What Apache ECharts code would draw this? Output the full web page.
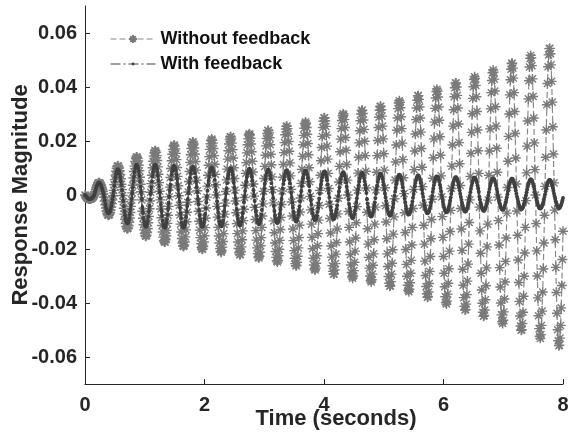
<!DOCTYPE html>
<html>
<head>
<meta charset="utf-8">
<script src="https://cdn.jsdelivr.net/npm/echarts@6/dist/echarts.min.js"></script>
<style>
  html, body { margin: 0; padding: 0; background: #ffffff; }
  #chart { width: 573px; height: 435px; }
</style>
</head>
<body>
<div id="chart"></div>
<script>
// Simulated response, sampled every 0.01 s from t = 0 to t = 8 s (801 samples each).
// One line per oscillation cycle.
const timeStep = 0.01;

const withoutFeedback = [
  0,-.0003,-.0006,-.0008,-.0011,-.0013,-.0014,-.0015,-.0015,-.0015,-.0014,-.0012,-.0010,-.0008,-.0005,-.0002,.0003,.0012,.0020,.0028,.0034,.0039,.0043,.0045,.0045,.0043,.0040,.0035,.0028,.0021,.0013,.0004,
  -.0008,-.0022,-.0036,-.0048,-.0059,-.0067,-.0072,-.0075,-.0074,-.0071,-.0065,-.0056,-.0045,-.0032,-.0018,-.0003,.0017,.0038,.0057,.0074,.0088,.0099,.0106,.0108,.0106,.0100,.0090,.0076,.0060,.0040,.0020,-.0002,
  -.0025,-.0049,-.0071,-.0090,-.0105,-.0117,-.0123,-.0125,-.0122,-.0114,-.0101,-.0085,-.0065,-.0042,-.0018,.0008,.0036,.0063,.0087,.0107,.0124,.0135,.0141,.0141,.0136,.0126,.0110,.0090,.0066,.0040,.0012,-.0018,
  -.0060,-.0086,-.0110,-.0129,-.0143,-.0151,-.0153,-.0149,-.0139,-.0124,-.0103,-.0079,-.0051,-.0022,.0010,.0042,.0073,.0101,.0125,.0144,.0157,.0164,.0164,.0158,.0146,.0128,.0104,.0077,.0046,.0014,
  -.0018,-.0052,-.0084,-.0113,-.0137,-.0156,-.0169,-.0174,-.0174,-.0166,-.0151,-.0131,-.0105,-.0075,-.0042,-.0007,.0029,.0065,.0098,.0127,.0151,.0169,.0181,.0185,.0182,.0171,.0154,.0131,.0102,.0069,.0034,-.0003,
  -.0038,-.0074,-.0108,-.0137,-.0161,-.0178,-.0188,-.0191,-.0186,-.0174,-.0155,-.0129,-.0099,-.0064,-.0027,.0011,.0050,.0087,.0121,.0149,.0172,.0188,.0196,.0196,.0189,.0174,.0152,.0124,.0092,.0055,.0016,-.0024,
  -.0060,-.0097,-.0130,-.0158,-.0180,-.0195,-.0201,-.0200,-.0191,-.0174,-.0151,-.0121,-.0086,-.0048,-.0008,.0033,.0073,.0110,.0142,.0169,.0190,.0202,.0207,.0203,.0192,.0172,.0146,.0114,.0077,.0038,
  0,-.0042,-.0082,-.0120,-.0152,-.0178,-.0198,-.0209,-.0212,-.0206,-.0193,-.0172,-.0143,-.0109,-.0071,-.0030,.0013,.0056,.0096,.0133,.0164,.0189,.0207,.0216,.0216,.0208,.0192,.0168,.0137,.0101,.0061,.0018,
  -.0022,-.0066,-.0106,-.0143,-.0174,-.0198,-.0214,-.0221,-.0220,-.0210,-.0192,-.0166,-.0133,-.0095,-.0053,-.0009,.0036,.0080,.0120,.0156,.0186,.0208,.0222,.0227,.0223,.0210,.0189,.0160,.0125,.0085,.0041,-.0004,
  -.0046,-.0091,-.0132,-.0167,-.0196,-.0217,-.0230,-.0233,-.0227,-.0212,-.0188,-.0158,-.0120,-.0078,-.0033,.0014,.0061,.0106,.0147,.0182,.0209,.0228,.0239,.0239,.0230,.0212,.0186,.0151,.0112,.0067,.0020,-.0029,
  -.0096,-.0140,-.0178,-.0209,-.0231,-.0244,-.0248,-.0242,-.0225,-.0201,-.0168,-.0128,-.0083,-.0035,.0015,.0066,.0113,.0157,.0194,.0223,.0244,.0254,.0255,.0246,.0226,.0198,.0162,.0119,.0071,.0021,
  -.0026,-.0078,-.0126,-.0169,-.0206,-.0234,-.0254,-.0262,-.0261,-.0249,-.0227,-.0196,-.0158,-.0112,-.0063,-.0011,.0043,.0095,.0143,.0186,.0221,.0247,.0264,.0270,.0265,.0250,.0225,.0191,.0149,.0101,.0049,-.0005,
  -.0055,-.0108,-.0157,-.0199,-.0234,-.0259,-.0274,-.0278,-.0271,-.0253,-.0225,-.0188,-.0143,-.0093,-.0039,.0017,.0073,.0127,.0176,.0217,.0250,.0273,.0285,.0286,.0275,.0254,.0222,.0181,.0133,.0080,.0024,-.0034,
  -.0087,-.0141,-.0189,-.0230,-.0262,-.0283,-.0293,-.0292,-.0278,-.0254,-.0219,-.0176,-.0126,-.0070,-.0012,.0048,.0106,.0160,.0207,.0246,.0276,.0294,.0301,.0296,.0279,.0250,.0213,.0166,.0113,.0055,
  0,-.0061,-.0120,-.0174,-.0221,-.0259,-.0287,-.0303,-.0308,-.0300,-.0280,-.0249,-.0208,-.0159,-.0103,-.0043,.0018,.0081,.0140,.0193,.0238,.0275,.0300,.0313,.0314,.0302,.0278,.0243,.0199,.0146,.0088,.0026,
  -.0064,-.0125,-.0182,-.0231,-.0271,-.0300,-.0317,-.0322,-.0314,-.0293,-.0260,-.0218,-.0166,-.0108,-.0045,.0019,.0084,.0146,.0202,.0250,.0288,.0314,.0328,.0329,.0316,.0292,.0255,.0208,.0153,.0092,.0027,-.0040,
  -.0100,-.0162,-.0218,-.0265,-.0302,-.0327,-.0338,-.0336,-.0321,-.0293,-.0253,-.0203,-.0145,-.0081,-.0014,.0055,.0122,.0185,.0240,.0285,.0320,.0341,.0349,.0343,.0323,.0290,.0246,.0192,.0131,.0064,.0005,-.0066,
  -.0139,-.0202,-.0257,-.0301,-.0334,-.0353,-.0358,-.0349,-.0325,-.0290,-.0242,-.0185,-.0120,-.0050,.0021,.0094,.0163,.0226,.0279,.0322,.0351,.0367,.0368,.0354,.0326,.0285,.0233,.0172,.0103,.0031,
  -.0038,-.0112,-.0182,-.0245,-.0298,-.0339,-.0366,-.0379,-.0377,-.0359,-.0328,-.0283,-.0228,-.0162,-.0091,-.0016,.0062,.0138,.0208,.0270,.0321,.0359,.0383,.0392,.0385,.0363,.0326,.0277,.0216,.0147,.0071,-.0007,
  -.0080,-.0157,-.0228,-.0290,-.0340,-.0377,-.0398,-.0404,-.0393,-.0367,-.0327,-.0273,-.0208,-.0135,-.0057,.0024,.0107,.0185,.0255,.0316,.0364,.0397,.0415,.0415,.0400,.0369,.0322,.0263,.0194,.0116,.0035,-.0050,
  -.0126,-.0205,-.0275,-.0334,-.0380,-.0412,-.0426,-.0424,-.0404,-.0369,-.0319,-.0256,-.0182,-.0102,-.0018,.0069,.0154,.0232,.0301,.0358,.0401,.0428,.0438,.0431,.0406,.0364,.0309,.0241,.0164,.0080,
  -.0045,-.0133,-.0216,-.0290,-.0352,-.0401,-.0434,-.0449,-.0446,-.0426,-.0388,-.0336,-.0270,-.0192,-.0108,-.0019,.0073,.0163,.0245,.0319,.0379,.0424,.0453,.0463,.0455,.0429,.0385,.0327,.0255,.0173,.0084,-.0008,
  -.0095,-.0185,-.0269,-.0341,-.0400,-.0444,-.0469,-.0476,-.0464,-.0433,-.0385,-.0322,-.0246,-.0159,-.0067,.0028,.0125,.0217,.0300,.0371,.0427,.0466,.0487,.0488,.0470,.0433,.0379,.0309,.0228,.0137,.0041,-.0059,
  -.0149,-.0241,-.0324,-.0394,-.0448,-.0485,-.0501,-.0499,-.0476,-.0434,-.0375,-.0301,-.0215,-.0120,-.0021,.0082,.0181,.0274,.0356,.0423,.0474,.0506,.0517,.0508,.0479,.0430,.0365,.0285,.0193,.0094,
  0,-.0106,-.0207,-.0300,-.0381,-.0447,-.0495,-.0523,-.0531,-.0517,-.0483,-.0430,-.0359,-.0274,-.0178,-.0075,.0032,.0140,.0241,.0334,.0413,.0475,.0519,.0542,.0543,.0523,.0482,.0421,.0344,.0253,.0152,.0045,
  -.0056,-.0166,-.0268,-.0361,-.0438,-.0499,-.0540,-.0558,-.0556,-.0530,-.0483,-.0418,-.0335,-.0239,-.0134
];

const withFeedback = [
  0,-.0003,-.0006,-.0008,-.0011,-.0013,-.0014,-.0015,-.0015,-.0015,-.0014,-.0012,-.0010,-.0008,-.0005,-.0002,.0003,.0012,.0020,.0028,.0034,.0039,.0043,.0045,.0045,.0043,.0040,.0035,.0028,.0021,.0013,.0004,
  -.0007,-.0020,-.0033,-.0044,-.0053,-.0061,-.0066,-.0068,-.0067,-.0064,-.0059,-.0051,-.0041,-.0029,-.0016,-.0003,.0015,.0033,.0050,.0065,.0078,.0087,.0093,.0095,.0093,.0088,.0079,.0067,.0052,.0036,.0017,-.0002,
  -.0021,-.0041,-.0059,-.0075,-.0088,-.0098,-.0103,-.0105,-.0102,-.0095,-.0085,-.0071,-.0054,-.0035,-.0015,.0006,.0029,.0050,.0069,.0085,.0098,.0107,.0111,.0112,.0107,.0099,.0087,.0071,.0052,.0031,.0009,-.0014,
  -.0046,-.0067,-.0085,-.0099,-.0110,-.0116,-.0118,-.0115,-.0107,-.0095,-.0080,-.0061,-.0040,-.0017,.0006,.0029,.0050,.0069,.0085,.0098,.0107,.0111,.0112,.0107,.0099,.0087,.0071,.0052,.0031,.0009,
  -.0012,-.0036,-.0058,-.0078,-.0095,-.0108,-.0117,-.0121,-.0120,-.0114,-.0104,-.0090,-.0072,-.0052,-.0029,-.0005,.0017,.0038,.0057,.0074,.0088,.0099,.0106,.0108,.0106,.0100,.0090,.0076,.0060,.0040,.0020,-.0002,
  -.0024,-.0047,-.0068,-.0087,-.0102,-.0113,-.0119,-.0121,-.0118,-.0110,-.0098,-.0082,-.0062,-.0041,-.0017,.0006,.0027,.0047,.0064,.0079,.0092,.0100,.0104,.0105,.0101,.0093,.0081,.0066,.0049,.0029,.0009,-.0014,
  -.0035,-.0057,-.0076,-.0092,-.0105,-.0114,-.0118,-.0117,-.0112,-.0102,-.0088,-.0071,-.0050,-.0028,-.0005,.0016,.0036,.0054,.0070,.0083,.0093,.0100,.0102,.0100,.0094,.0085,.0072,.0056,.0038,.0019,
  0,-.0023,-.0045,-.0066,-.0083,-.0098,-.0108,-.0114,-.0116,-.0113,-.0105,-.0094,-.0078,-.0060,-.0039,-.0016,.0006,.0025,.0044,.0061,.0075,.0086,.0094,.0098,.0099,.0095,.0088,.0077,.0062,.0046,.0028,.0008,
  -.0011,-.0033,-.0054,-.0073,-.0088,-.0101,-.0109,-.0113,-.0112,-.0107,-.0098,-.0084,-.0068,-.0048,-.0027,-.0005,.0015,.0034,.0051,.0067,.0079,.0089,.0095,.0097,.0095,.0090,.0081,.0068,.0053,.0036,.0018,-.0002,
  -.0021,-.0042,-.0061,-.0077,-.0091,-.0101,-.0106,-.0108,-.0105,-.0098,-.0087,-.0073,-.0056,-.0036,-.0015,.0005,.0024,.0042,.0058,.0071,.0082,.0089,.0093,.0094,.0090,.0083,.0073,.0059,.0044,.0026,.0008,-.0012,
  -.0040,-.0059,-.0075,-.0087,-.0097,-.0102,-.0104,-.0101,-.0095,-.0084,-.0070,-.0054,-.0035,-.0015,.0005,.0024,.0041,.0056,.0070,.0080,.0088,.0091,.0092,.0088,.0081,.0071,.0058,.0043,.0026,.0008,
  -.0010,-.0029,-.0047,-.0063,-.0077,-.0087,-.0094,-.0098,-.0097,-.0093,-.0085,-.0073,-.0059,-.0042,-.0023,-.0004,.0014,.0032,.0048,.0062,.0074,.0082,.0088,.0090,.0088,.0083,.0075,.0064,.0050,.0034,.0016,-.0002,
  -.0019,-.0036,-.0053,-.0067,-.0078,-.0087,-.0092,-.0093,-.0091,-.0085,-.0075,-.0063,-.0048,-.0031,-.0013,.0005,.0022,.0039,.0053,.0066,.0076,.0083,.0086,.0087,.0083,.0077,.0067,.0055,.0040,.0024,.0007,-.0010,
  -.0026,-.0043,-.0057,-.0070,-.0079,-.0086,-.0089,-.0088,-.0084,-.0077,-.0066,-.0053,-.0038,-.0021,-.0004,.0013,.0029,.0045,.0058,.0069,.0077,.0082,.0084,.0083,.0078,.0070,.0059,.0046,.0031,.0015,
  0,-.0017,-.0033,-.0048,-.0061,-.0071,-.0079,-.0084,-.0085,-.0083,-.0077,-.0069,-.0057,-.0044,-.0028,-.0012,.0005,.0021,.0036,.0050,.0061,.0071,.0077,.0081,.0081,.0078,.0072,.0063,.0051,.0038,.0023,.0007,
  -.0016,-.0031,-.0045,-.0057,-.0067,-.0075,-.0079,-.0080,-.0078,-.0073,-.0065,-.0054,-.0041,-.0027,-.0011,.0005,.0020,.0035,.0048,.0059,.0068,.0074,.0078,.0078,.0075,.0069,.0060,.0049,.0036,.0022,.0006,-.0009,
  -.0022,-.0036,-.0049,-.0060,-.0068,-.0073,-.0076,-.0075,-.0072,-.0066,-.0057,-.0046,-.0032,-.0018,-.0003,.0012,.0026,.0040,.0052,.0061,.0069,.0073,.0075,.0074,.0069,.0062,.0053,.0041,.0028,.0014,.0001,-.0013,
  -.0028,-.0041,-.0052,-.0061,-.0067,-.0071,-.0072,-.0070,-.0065,-.0058,-.0049,-.0037,-.0024,-.0010,.0004,.0018,.0032,.0044,.0055,.0063,.0069,.0072,.0072,.0069,.0064,.0056,.0045,.0033,.0020,.0006,
  -.0007,-.0020,-.0033,-.0044,-.0053,-.0061,-.0066,-.0068,-.0067,-.0064,-.0059,-.0051,-.0041,-.0029,-.0016,-.0003,.0011,.0024,.0037,.0047,.0056,.0063,.0067,.0069,.0068,.0064,.0057,.0049,.0038,.0026,.0013,-.0001,
  -.0013,-.0025,-.0036,-.0046,-.0054,-.0060,-.0063,-.0064,-.0062,-.0058,-.0052,-.0043,-.0033,-.0021,-.0009,.0004,.0017,.0029,.0040,.0050,.0058,.0063,.0066,.0066,.0063,.0058,.0051,.0042,.0031,.0018,.0005,-.0007,
  -.0018,-.0029,-.0039,-.0048,-.0054,-.0059,-.0061,-.0061,-.0058,-.0053,-.0046,-.0037,-.0026,-.0015,-.0003,.0010,.0022,.0034,.0044,.0052,.0059,.0063,.0064,.0063,.0059,.0053,.0045,.0035,.0024,.0012,
  -.0006,-.0017,-.0028,-.0037,-.0045,-.0052,-.0056,-.0058,-.0058,-.0055,-.0050,-.0043,-.0035,-.0025,-.0014,-.0002,.0010,.0022,.0033,.0043,.0051,.0057,.0061,.0062,.0061,.0057,.0052,.0044,.0034,.0023,.0011,-.0001,
  -.0011,-.0021,-.0031,-.0039,-.0046,-.0051,-.0054,-.0055,-.0054,-.0050,-.0044,-.0037,-.0028,-.0018,-.0008,.0003,.0015,.0027,.0037,.0045,.0052,.0057,.0060,.0060,.0058,.0053,.0046,.0038,.0028,.0017,.0005,-.0006,
  -.0015,-.0025,-.0033,-.0041,-.0046,-.0050,-.0052,-.0052,-.0049,-.0045,-.0039,-.0031,-.0022,-.0012,-.0002,.0009,.0020,.0031,.0040,.0047,.0053,.0057,.0058,.0057,.0054,.0048,.0041,.0032,.0022,.0011,
  0,-.0010,-.0019,-.0028,-.0036,-.0042,-.0047,-.0049,-.0050,-.0049,-.0045,-.0040,-.0034,-.0026,-.0017,-.0007,.0003,.0014,.0025,.0034,.0042,.0049,.0053,.0056,.0056,.0054,.0050,.0043,.0035,.0026,.0016,.0005,
  -.0005,-.0014,-.0023,-.0031,-.0038,-.0043,-.0046,-.0048,-.0048,-.0045,-.0041,-.0036,-.0029,-.0020,-.0011
];

const seriesNames = ['Without feedback', 'With feedback'];
const xTickValues = [0, 2, 4, 6, 8];
const yTickValues = [-0.06, -0.04, -0.02, 0, 0.02, 0.04, 0.06];

// Pair each sample with its time stamp.
const toPoints = values => values.map((v, i) => [Math.round(i * timeStep * 100) / 100, v]);

const FONT = '"Liberation Sans", Arial, Helvetica, sans-serif';
const INK = '#262626';
// Eight-spoke asterisk marker.
const ASTERISK = 'path://M0,-10L0,10M-10,0L10,0M-7.07,-7.07L7.07,7.07M-7.07,7.07L7.07,-7.07';
// Small dot inside a padded box, so the dot keeps a small size in the legend.
const DOT = 'path://M-10,-10M10,10M0,-3.6A3.6,3.6,0,1,1,0,3.6A3.6,3.6,0,1,1,0,-3.6Z';

const chart = echarts.init(document.getElementById('chart'), null, { renderer: 'canvas' });

chart.setOption({
  animation: false,
  backgroundColor: '#ffffff',
  textStyle: { fontFamily: FONT },
  grid: { left: 85, right: 10, top: 6, bottom: 51, containLabel: false, outerBoundsMode: 'none' },
  legend: {
    orient: 'vertical',
    left: 110,
    top: 29,
    padding: 0,
    itemWidth: 45,
    itemHeight: 10,
    itemGap: 5,
    data: seriesNames,
    lineStyle: { width: 1 },
    textStyle: { fontFamily: FONT, fontSize: 18, fontWeight: 'bold', color: '#111111', lineHeight: 20 },
    selectedMode: false
  },
  xAxis: {
    type: 'value',
    min: 0,
    max: 8,
    interval: 2,
    name: 'Time (seconds)',
    nameLocation: 'middle',
    nameGap: 24,
    nameMoveOverlap: false,
    nameTextStyle: { fontFamily: FONT, fontSize: 22, fontWeight: 'bold', color: INK, padding: [0, 0, 0, 24] },
    axisLine: { show: true, onZero: false, lineStyle: { color: INK, width: 1 } },
    axisTick: { show: true, inside: true, length: 5, lineStyle: { color: INK }, customValues: xTickValues },
    axisLabel: { fontFamily: FONT, fontSize: 20, fontWeight: 'bold', color: INK, margin: 11, customValues: xTickValues },
    splitLine: { show: false }
  },
  yAxis: {
    type: 'value',
    min: -0.07,
    max: 0.07,
    name: 'Response Magnitude',
    nameLocation: 'middle',
    nameGap: 53,
    nameMoveOverlap: false,
    nameTextStyle: { fontFamily: FONT, fontSize: 22, fontWeight: 'bold', color: INK },
    axisLine: { show: true, onZero: false, lineStyle: { color: INK, width: 1 } },
    axisTick: { show: true, inside: true, length: 5, lineStyle: { color: INK }, customValues: yTickValues },
    axisLabel: { fontFamily: FONT, fontSize: 20, fontWeight: 'bold', color: INK, margin: 8, customValues: yTickValues },
    splitLine: { show: false }
  },
  series: [
    {
      name: seriesNames[0],
      type: 'line',
      data: toPoints(withoutFeedback),
      symbol: ASTERISK,
      symbolSize: 10,
      symbolKeepAspect: true,
      showSymbol: true,
      color: '#7a7a7a',
      itemStyle: { color: '#7a7a7a', borderColor: '#7a7a7a', borderWidth: 1.4 },
      lineStyle: { color: '#8a8a8a', width: 1.2, type: [6, 3] },
      silent: true,
      z: 2
    },
    {
      name: seriesNames[1],
      type: 'line',
      data: toPoints(withFeedback),
      symbol: DOT,
      symbolSize: 11,
      symbolKeepAspect: true,
      showSymbol: true,
      color: '#404040',
      itemStyle: { color: '#404040', borderWidth: 0 },
      lineStyle: { color: '#404040', width: 2.5, type: [10, 3, 2, 3] },
      silent: true,
      z: 3
    }
  ]
});
</script>
</body>
</html>
